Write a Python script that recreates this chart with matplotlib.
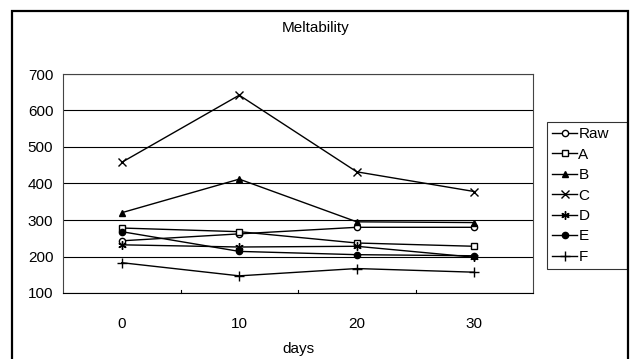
import matplotlib
matplotlib.use("Agg")
import matplotlib.pyplot as plt
from matplotlib.patches import Rectangle

plt.rcParams["font.family"] = ["Liberation Sans", "DejaVu Sans"]

# melt test values per sample, read at each storage day
days = [0, 10, 20, 30]
raw = [243, 262, 280, 280]
sample_a = [278, 268, 237, 228]
sample_b = [320, 412, 295, 293]
sample_c = [458, 642, 432, 378]
sample_d = [232, 226, 228, 198]
sample_e = [268, 214, 205, 202]
sample_f = [183, 147, 167, 157]

series = [
    ("Raw", raw, dict(marker="o", mfc="white", ms=4.5)),
    ("A", sample_a, dict(marker="s", mfc="white", ms=4.5)),
    ("B", sample_b, dict(marker="^", mfc="black", ms=5)),
    ("C", sample_c, dict(marker="x", ms=5.5, mew=1.0)),
    ("D", sample_d, dict(marker=(6, 2, 0), ms=6, mew=1.0)),
    ("E", sample_e, dict(marker="o", mfc="black", ms=4.5)),
    ("F", sample_f, dict(marker="+", ms=6.5, mew=1.0)),
]

fig = plt.figure(figsize=(6.32, 3.59), dpi=100)
ax = fig.add_axes([63 / 632, 1 - 293 / 359, 470 / 632, 219 / 359])

for name, vals, style in series:
    ax.plot(days, vals, color="black", lw=1.0, mec="black", label=name, **style)

ax.set_xlim(-5, 35)
ax.set_ylim(100, 700)
ax.set_yticks(range(100, 701, 100))
ax.yaxis.grid(True, color="black", lw=0.8)
ax.set_axisbelow(True)
ax.tick_params(axis="y", length=0, labelsize=11, pad=7)

# category labels sit between the divider ticks
ax.set_xticks(days)
ax.tick_params(axis="x", length=0, labelsize=11, pad=17)
for xt in [5, 15, 25]:
    ax.plot([xt, xt], [100, 108], color="black", lw=0.8, clip_on=False)

for sp in ax.spines.values():
    sp.set_color("#444444")
    sp.set_linewidth(0.8)
ax.spines["bottom"].set_color("black")

ax.set_xlabel("days", fontsize=11, labelpad=8)
fig.text(316 / 632, 1 - 28 / 359, "Meltability", ha="center", va="center", fontsize=11)

leg = ax.legend(loc="upper left", bbox_to_anchor=(547 / 632, 1 - 264 / 359, 80 / 632, 142 / 359),
                bbox_transform=fig.transFigure, mode="expand", frameon=True, fancybox=False,
                fontsize=11, handlelength=1.6, handletextpad=0.1, labelspacing=0.42,
                borderaxespad=0, borderpad=0.35)
leg.get_frame().set_edgecolor("black")
leg.get_frame().set_linewidth(0.8)

# outer chart frame
fig.patches.append(Rectangle((12 / 632, -0.02), 616 / 632, 1.02 - 11 / 359,
                             transform=fig.transFigure, fill=False, ec="black", lw=1.6))

fig.savefig("out.png", dpi=100)
